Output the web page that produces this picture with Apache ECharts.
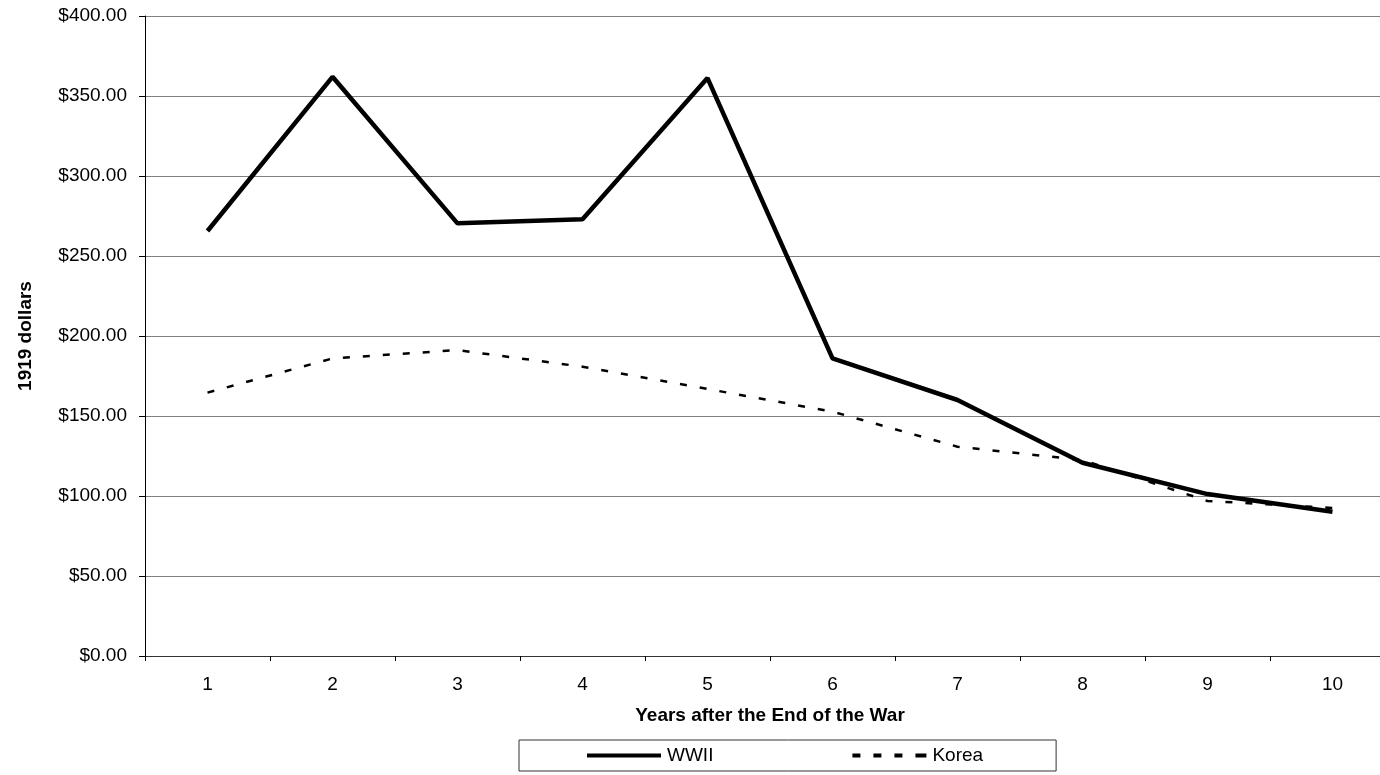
<!DOCTYPE html>
<html>
<head>
<meta charset="utf-8">
<script src="https://cdn.jsdelivr.net/npm/echarts@6/dist/echarts.min.js"></script>
<style>
html,body{margin:0;padding:0;background:#fff;}
#chart{width:1380px;height:775px;}
</style>
</head>
<body>
<div id="chart"></div>
<script>
const categories = ['1','2','3','4','5','6','7','8','9','10'];
const wwii = [265.6, 362.0, 270.4, 273.0, 361.2, 186.0, 160.0, 120.8, 101.2, 90.2];
const korea = [164.6, 186.0, 191.2, 180.8, 166.9, 152.7, 130.8, 122.5, 96.9, 92.5];
const yTicks = {min: 0, max: 400, interval: 50};

const font = '"Liberation Sans", Arial, sans-serif';
const chart = echarts.init(document.getElementById('chart'), null, {renderer: 'canvas'});
chart.setOption({
  animation: false,
  backgroundColor: '#fff',
  textStyle: {fontFamily: font, color: '#000'},
  grid: {left: 145, top: 16, width: 1250, height: 640, containLabel: false, outerBoundsMode: 'none'},
  xAxis: {
    type: 'category',
    data: categories,
    boundaryGap: true,
    name: 'Years after the End of the War',
    nameLocation: 'middle',
    nameGap: 50,
    nameTextStyle: {fontFamily: font, fontSize: 19, fontWeight: 'bold', color: '#000'},
    axisLine: {lineStyle: {color: '#333', width: 1}},
    axisTick: {show: true, length: 5, lineStyle: {color: '#000'}},
    axisLabel: {fontFamily: font, fontSize: 19, color: '#000', margin: 19},
    splitLine: {show: false}
  },
  yAxis: {
    type: 'value',
    min: yTicks.min, max: yTicks.max, interval: yTicks.interval,
    name: '1919 dollars',
    nameLocation: 'middle',
    nameGap: 110,
    nameRotate: 90,
    nameTextStyle: {fontFamily: font, fontSize: 19, fontWeight: 'bold', color: '#000'},
    axisLine: {show: true, lineStyle: {color: '#000', width: 1}},
    axisTick: {show: true, length: 6, lineStyle: {color: '#000'}},
    axisLabel: {fontFamily: font, fontSize: 19, color: '#000', margin: 18,
      formatter: v => '$' + v.toFixed(2)},
    splitLine: {show: true, lineStyle: {color: '#808080', width: 1}}
  },
  legend: {
    left: 519, top: 740,
    padding: [6, 73, 6, 68],
    itemGap: 139,
    itemWidth: 74, itemHeight: 4,
    borderColor: '#333', borderWidth: 1,
    textStyle: {fontFamily: font, fontSize: 19, color: '#000', padding: [0,0,0,1]},
    data: [
      {name: 'WWII', icon: 'path://M0,0h74v4h-74z'},
      {name: 'Korea', icon: 'path://M0,0h8v4h-8zM21,0h8v4h-8zM42,0h8v4h-8zM63,0h11v4h-11z'}
    ]
  },
  series: [
    {
      name: 'WWII', type: 'line', data: wwii,
      symbol: 'none', showSymbol: false,
      lineStyle: {color: '#000', width: 4.5, type: 'solid'},
      itemStyle: {color: '#000'}
    },
    {
      name: 'Korea', type: 'line', data: korea,
      symbol: 'none', showSymbol: false,
      lineStyle: {color: '#000', width: 2.5, type: [7, 13]},
      itemStyle: {color: '#000'}
    }
  ]
});
</script>
</body>
</html>
